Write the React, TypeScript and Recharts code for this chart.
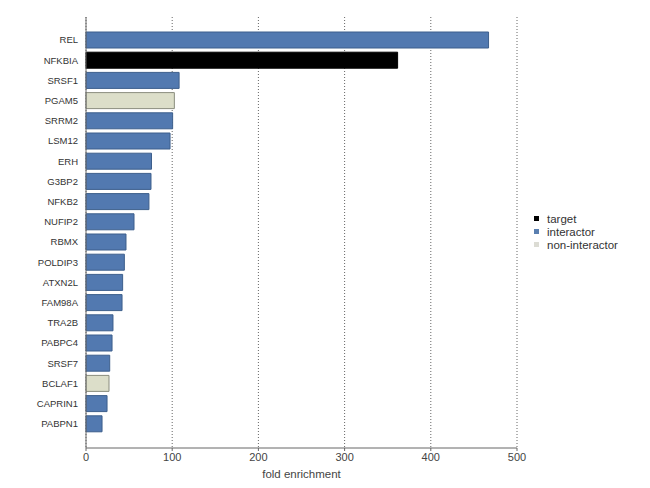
import { Bar, BarChart, CartesianGrid, Cell, XAxis, YAxis } from "recharts";

const genes = [
  "REL", "NFKBIA", "SRSF1", "PGAM5", "SRRM2", "LSM12", "ERH", "G3BP2", "NFKB2", "NUFIP2",
  "RBMX", "POLDIP3", "ATXN2L", "FAM98A", "TRA2B", "PABPC4", "SRSF7", "BCLAF1", "CAPRIN1", "PABPN1",
];
const foldEnrichment = [
  467, 361.5, 108, 102.5, 100.5, 97.5, 76, 75.4, 73, 55.7,
  46.4, 44.5, 42.5, 41.8, 31.3, 30.2, 27.5, 26.7, 24.4, 18.6,
];
const groups = [
  "interactor", "target", "interactor", "non-interactor", "interactor", "interactor", "interactor", "interactor", "interactor", "interactor",
  "interactor", "interactor", "interactor", "interactor", "interactor", "interactor", "interactor", "non-interactor", "interactor", "interactor",
];
const legendItems = ["target", "interactor", "non-interactor"];
const xTicks = [0, 100, 200, 300, 400, 500];

const fills: Record<string, string> = {
  target: "#000000",
  interactor: "#5279b0",
  "non-interactor": "#dcdec9",
};
const strokes: Record<string, string> = {
  target: "#000000",
  interactor: "#3d5f8c",
  "non-interactor": "#8a8d7e",
};
const legendColors: Record<string, string> = {
  target: "#000000",
  interactor: "#5a7fb0",
  "non-interactor": "#dcdcd4",
};

const data = genes.map((gene, i) => ({ gene, value: foldEnrichment[i], group: groups[i] }));

const FONT = "'Liberation Sans', Arial, sans-serif";

// legend sits to the right of the plot, drawn as plain HTML so it takes no room from the chart
const LegendBox = () => (
  <div style={{ position: "absolute", left: 534, top: 212, fontFamily: FONT, fontSize: 11.5, color: "#333" }}>
    {legendItems.map((g) => (
      <div key={g} style={{ display: "flex", alignItems: "center", height: 13 }}>
        <span style={{ width: 5, height: 5, background: legendColors[g], display: "inline-block", marginRight: 8 }} />
        <span>{g}</span>
      </div>
    ))}
  </div>
);

export default function App() {
  return (
    <div style={{ position: "absolute", left: 0, top: 0, width: 650, height: 488, background: "#fff" }}>
      <BarChart
        width={650}
        height={488}
        data={data}
        layout="vertical"
        margin={{ top: 17, right: 133, left: 10, bottom: 0 }}
      >
        <CartesianGrid horizontal={false} vertical={true} stroke="#666" strokeDasharray="1 2" />
        <XAxis
          type="number"
          domain={[0, 500]}
          ticks={xTicks}
          height={40}
          stroke="#666"
          tickSize={3}
          tick={{ fontSize: 11, fill: "#444", fontFamily: FONT }}
          label={{ value: "fold enrichment", position: "insideBottom", offset: 10, fontSize: 11.5, fill: "#444", fontFamily: FONT }}
        />
        <YAxis
          type="category"
          dataKey="gene"
          width={76}
          tickLine={false}
          stroke="#666"
          padding={{ top: 13, bottom: 14 }}
          tick={{ fontSize: 9.5, fill: "#333", fontFamily: FONT }}
        />
        <Bar dataKey="value" barSize={16} isAnimationActive={false}>
          {data.map((d) => (
            <Cell key={d.gene} fill={fills[d.group]} stroke={strokes[d.group]} strokeWidth={1} />
          ))}
        </Bar>
      </BarChart>
      <LegendBox />
    </div>
  );
}
